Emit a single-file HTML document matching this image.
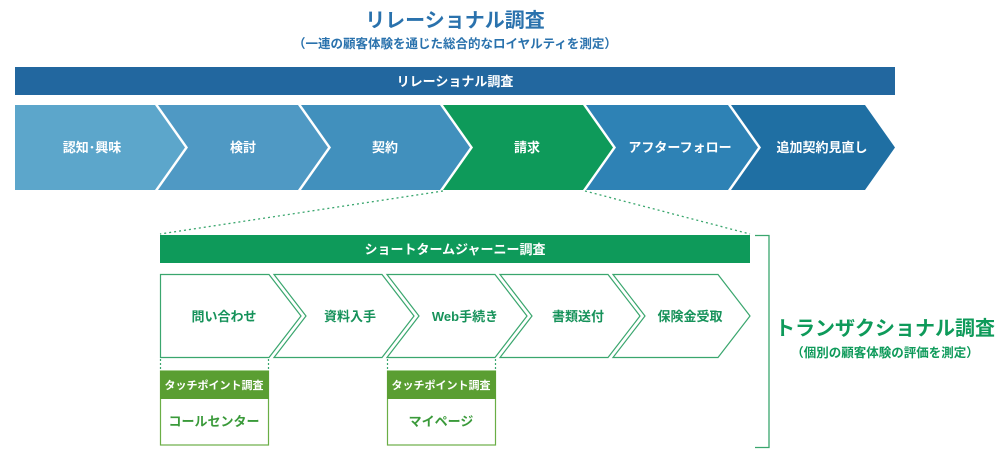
<!DOCTYPE html>
<html><head><meta charset="utf-8"><style>
html,body{margin:0;padding:0;background:#fff;}
svg text{font-family:"Liberation Sans","Noto Sans CJK JP",sans-serif;font-weight:bold;}
</style></head><body>
<svg width="1000" height="464" viewBox="0 0 1000 464" xmlns="http://www.w3.org/2000/svg">
<text x="455" y="27" font-size="20" fill="#2a72ad" text-anchor="middle">リレーショナル調査</text>
<text x="455" y="48" font-size="12.5" fill="#2a72ad" text-anchor="middle">（一連の顧客体験を通じた総合的なロイヤルティを測定）</text>
<rect x="15" y="67" width="880" height="28" fill="#22679f"/>
<text x="455" y="86" font-size="13" fill="#fff" text-anchor="middle">リレーショナル調査</text>

<polygon points="15,105 155,105 185,147.5 155,190 15,190" fill="#5ca6cb"/>
<polygon points="158,105 298,105 328,147.5 298,190 158,190 188,147.5" fill="#4f99c4"/>
<polygon points="301,105 440,105 470,147.5 440,190 301,190 331,147.5" fill="#4190bd"/>
<polygon points="443,105 583,105 613,147.5 583,190 443,190 473,147.5" fill="#0e9a5a"/>
<polygon points="586,105 728,105 758,147.5 728,190 586,190 616,147.5" fill="#2e82b5"/>
<polygon points="731,105 865,105 895,147.5 865,190 731,190 761,147.5" fill="#1f6fa3"/>
<g font-size="13" fill="#fff" text-anchor="middle">
<text x="92" y="152">認知･興味</text>
<text x="243" y="152">検討</text>
<text x="385" y="152">契約</text>
<text x="527" y="152">請求</text>
<text x="680" y="152">アフターフォロー</text>
<text x="822" y="152">追加契約見直し</text>
</g>

<line x1="443" y1="191" x2="160" y2="234" stroke="#3aa66e" stroke-width="1.3" stroke-dasharray="2,3"/>
<line x1="585" y1="191" x2="750" y2="234" stroke="#3aa66e" stroke-width="1.3" stroke-dasharray="2,3"/>

<rect x="160" y="235" width="590" height="28" fill="#0e9a5a"/>
<text x="455" y="254" font-size="13" fill="#fff" text-anchor="middle">ショートタームジャーニー調査</text>

<g fill="none" stroke="#3aa66e" stroke-width="1.2">
<polygon points="160.5,274.5 269,274.5 301,316 269,357.5 160.5,357.5"/>
<polygon points="274,274.5 382,274.5 414,316 382,357.5 274,357.5 306,316"/>
<polygon points="387,274.5 495,274.5 527,316 495,357.5 387,357.5 419,316"/>
<polygon points="500,274.5 608,274.5 640,316 608,357.5 500,357.5 532,316"/>
<polygon points="613,274.5 718,274.5 750,316 718,357.5 613,357.5 645,316"/>
</g>
<g font-size="13" fill="#16925a" text-anchor="middle">
<text x="224" y="321">問い合わせ</text>
<text x="350" y="321">資料入手</text>
<text x="465" y="321">Web手続き</text>
<text x="578" y="321">書類送付</text>
<text x="690" y="321">保険金受取</text>
</g>

<g stroke="#3aa66e" stroke-width="1.2" stroke-dasharray="2,2">
<line x1="160.5" y1="359" x2="160.5" y2="371"/><line x1="268.5" y1="359" x2="268.5" y2="371"/>
<line x1="387.5" y1="359" x2="387.5" y2="371"/><line x1="495.5" y1="359" x2="495.5" y2="371"/>
</g>
<rect x="160.5" y="371" width="108" height="74" fill="#fff" stroke="#6aae45" stroke-width="1.2"/>
<rect x="160" y="371" width="109" height="28" fill="#5a9e32"/>
<text x="214" y="389" font-size="11" fill="#fff" text-anchor="middle">タッチポイント調査</text>
<text x="214" y="426" font-size="13" fill="#3a9a3a" text-anchor="middle">コールセンター</text>
<rect x="387.5" y="371" width="108" height="74" fill="#fff" stroke="#6aae45" stroke-width="1.2"/>
<rect x="387" y="371" width="109" height="28" fill="#5a9e32"/>
<text x="441" y="389" font-size="11" fill="#fff" text-anchor="middle">タッチポイント調査</text>
<text x="441" y="426" font-size="13" fill="#3a9a3a" text-anchor="middle">マイページ</text>

<polyline points="755,235.5 769,235.5 769,447.5 755,447.5" fill="none" stroke="#3aa66e" stroke-width="1.3"/>
<text x="885" y="335" font-size="20" fill="#0e9a5a" text-anchor="middle">トランザクショナル調査</text>
<text x="885" y="357" font-size="12.5" fill="#0e9a5a" text-anchor="middle">（個別の顧客体験の評価を測定）</text>
</svg>
</body></html>
